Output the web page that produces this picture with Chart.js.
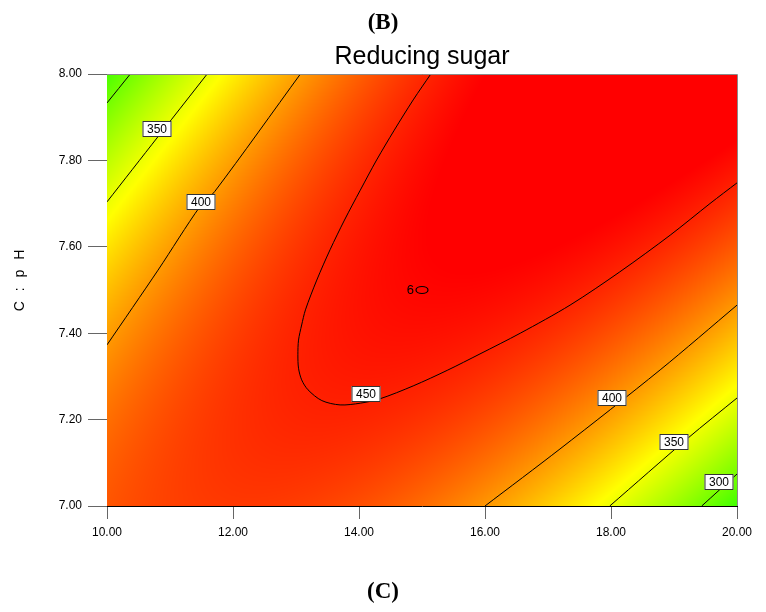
<!DOCTYPE html>
<html>
<head>
<meta charset="utf-8">
<script src="https://cdn.jsdelivr.net/npm/chart.js@4.4.1/dist/chart.umd.min.js"></script>
<style>
  html, body { margin: 0; padding: 0; background: #fff; }
</style>
</head>
<body>
<canvas id="rs" width="766" height="612"></canvas>
<script>
// axis ranges and ticks
const xMin = 10, xMax = 20;
const yMin = 7, yMax = 8;
const xStep = 2, yStep = 0.2;

// fitted quadratic model (coded units: X=(A-15)/5, Y=(pH-7.5)/0.5)
// terms: b0, X, Y, X^2, Y^2, XY
const modelCoef = [462.8, 11.7, 13.65, -65.0, -28.6, 86.0];

// contour lines [A, pH]
const contour300a = [[10.00, 7.933], [10.37, 8.00]];
const contour350a = [[10.00, 7.704], [10.81, 7.855], [11.02, 7.894], [11.59, 8.00]];
const contour400a = [[10.00, 7.373], [10.81, 7.546], [11.48, 7.694], [11.71, 7.728], [13.07, 8.00]];
const contour450 = [
  [15.14, 8.000], [14.86, 7.940], [14.56, 7.870], [14.28, 7.801], [14.02, 7.731],
  [13.77, 7.662], [13.54, 7.593], [13.33, 7.523], [13.15, 7.454], [13.09, 7.419],
  [13.04, 7.384], [13.03, 7.350], [13.04, 7.319], [13.09, 7.292], [13.19, 7.269],
  [13.41, 7.244], [13.70, 7.234], [14.02, 7.238], [14.33, 7.248], [14.86, 7.278],
  [15.40, 7.314], [15.92, 7.352], [16.56, 7.400], [17.35, 7.465], [18.14, 7.542],
  [18.94, 7.627], [19.57, 7.700], [20.00, 7.748]
];
const contour400b = [[16.00, 7.000], [17.19, 7.132], [18.78, 7.315], [20.00, 7.465]];
const contour350b = [[17.98, 7.000], [19.22, 7.157], [20.00, 7.250]];
const contour300b = [[19.44, 7.000], [20.00, 7.074]];

// contour labels
const labelText = ["350", "400", "450", "400", "350", "300"];
const labelX = [10.80, 11.49, 14.11, 18.02, 19.00, 19.71];
const labelY = [7.873, 7.704, 7.259, 7.249, 7.147, 7.055];

// design point (center, 6 replicates)
const designX = [15.0];
const designY = [7.5];
const designN = [6];

const titleTop = "(B)";
const titleMain = "Reducing sugar";
const titleBottom = "(C)";
const yTitle = "C : p H";

// colour ramp: green -> yellow -> red
const rampVals = [255, 360, 465];
const rampCols = [[0, 255, 0], [255, 255, 0], [255, 0, 0]];

function response(a, ph) {
  const X = (a - 15) / 5, Y = (ph - 7.5) / 0.5;
  const b = modelCoef;
  return b[0] + b[1]*X + b[2]*Y + b[3]*X*X + b[4]*Y*Y + b[5]*X*Y;
}

function rampColor(v) {
  if (v <= rampVals[0]) return rampCols[0];
  if (v >= rampVals[2]) return rampCols[2];
  const k = v < rampVals[1] ? 0 : 1;
  const t = (v - rampVals[k]) / (rampVals[k+1] - rampVals[k]);
  const c0 = rampCols[k], c1 = rampCols[k+1];
  return [c0[0] + (c1[0]-c0[0])*t, c0[1] + (c1[1]-c0[1])*t, c0[2] + (c1[2]-c0[2])*t];
}

const toPts = arr => arr.map(p => ({x: p[0], y: p[1]}));

function lineSet(arr) {
  return {
    type: 'line',
    data: toPts(arr),
    borderColor: '#000',
    borderWidth: 1,
    pointRadius: 0,
    tension: 0.3,
    fill: false
  };
}

// small ellipse marker for the design point
const ell = document.createElement('canvas');
ell.width = 16; ell.height = 10;
(function(){
  const c = ell.getContext('2d');
  c.strokeStyle = '#000'; c.lineWidth = 1.2;
  c.beginPath(); c.ellipse(8, 5, 6, 3.5, 0, 0, Math.PI*2); c.stroke();
})();

const surfacePlugin = {
  id: 'surface',
  beforeDatasetsDraw(chart) {
    const {ctx, chartArea: a, scales: {x, y}} = chart;
    const w = Math.round(a.right - a.left), h = Math.round(a.bottom - a.top);
    const off = document.createElement('canvas');
    off.width = w; off.height = h;
    const octx = off.getContext('2d');
    const img = octx.createImageData(w, h);
    for (let j = 0; j < h; j++) {
      const yv = y.getValueForPixel(a.top + j + 0.5);
      for (let i = 0; i < w; i++) {
        const xv = x.getValueForPixel(a.left + i + 0.5);
        const c = rampColor(response(xv, yv));
        const k = (j*w + i) * 4;
        img.data[k] = c[0]; img.data[k+1] = c[1]; img.data[k+2] = c[2]; img.data[k+3] = 255;
      }
    }
    octx.putImageData(img, 0, 0);
    ctx.drawImage(off, a.left, a.top);
  },
  afterDatasetsDraw(chart) {
    const {ctx, chartArea: a, scales: {x, y}} = chart;
    ctx.save();
    // frame top/right
    ctx.strokeStyle = '#8a8a8a';
    ctx.lineWidth = 1;
    ctx.beginPath();
    ctx.moveTo(a.left, a.top + 0.5); ctx.lineTo(a.right + 0.5, a.top + 0.5);
    ctx.lineTo(a.right + 0.5, a.bottom);
    ctx.stroke();

    // contour labels
    ctx.font = '12px "Liberation Sans", Arial, sans-serif';
    ctx.textAlign = 'center';
    ctx.textBaseline = 'middle';
    labelText.forEach((t, i) => {
      const px = Math.round(x.getPixelForValue(labelX[i]));
      const py = Math.round(y.getPixelForValue(labelY[i]));
      const bw = Math.ceil(ctx.measureText(t).width) + 8, bh = 16;
      ctx.fillStyle = '#fff';
      ctx.fillRect(px - bw/2, py - bh/2, bw, bh);
      ctx.strokeStyle = '#333';
      ctx.strokeRect(px - bw/2 + 0.5, py - bh/2 + 0.5, bw - 1, bh - 1);
      ctx.fillStyle = '#000';
      ctx.fillText(t, px, py + 1);
    });

    // design point count
    ctx.font = '13px "Liberation Sans", Arial, sans-serif';
    ctx.textAlign = 'right';
    designN.forEach((n, i) => {
      ctx.fillText(String(n), x.getPixelForValue(designX[i]) - 8, y.getPixelForValue(designY[i]));
    });
    ctx.restore();
  },
  afterDraw(chart) {
    const {ctx} = chart;
    ctx.save();
    ctx.fillStyle = '#000';
    ctx.textAlign = 'center';
    ctx.textBaseline = 'middle';
    ctx.font = 'bold 23px "Liberation Serif", "Times New Roman", serif';
    ctx.fillText(titleTop, 383, 23);
    ctx.fillText(titleBottom, 383, 592);
    ctx.font = '25px "Liberation Sans", Arial, sans-serif';
    ctx.fillText(titleMain, 422, 57);
    ctx.translate(20, 279);
    ctx.rotate(-Math.PI/2);
    ctx.font = '14px "Liberation Sans", Arial, sans-serif';
    if ('letterSpacing' in ctx) ctx.letterSpacing = '3px';
    ctx.fillText(yTitle, 0, 0);
    ctx.restore();
  }
};

new Chart(document.getElementById('rs'), {
  type: 'scatter',
  data: {
    datasets: [
      lineSet(contour300a), lineSet(contour350a), lineSet(contour400a), lineSet(contour450),
      lineSet(contour400b), lineSet(contour350b), lineSet(contour300b),
      {
        type: 'scatter',
        data: designX.map((v, i) => ({x: v, y: designY[i]})),
        pointStyle: ell,
        pointRadius: 5
      }
    ]
  },
  options: {
    responsive: false,
    animation: false,
    devicePixelRatio: 1,
    layout: { padding: { top: 74, right: 29, bottom: 0, left: 0 } },
    plugins: { legend: { display: false }, tooltip: { enabled: false } },
    scales: {
      x: {
        type: 'linear', min: xMin, max: xMax,
        afterFit: s => { s.height = 106; },
        ticks: {
          stepSize: xStep, color: '#000', padding: 6,
          font: { family: '"Liberation Sans", Arial, sans-serif', size: 12 },
          callback: v => Number(v).toFixed(2)
        },
        grid: { drawOnChartArea: false, tickLength: 13, color: '#666' },
        border: { color: '#000' }
      },
      y: {
        type: 'linear', min: yMin, max: yMax,
        afterFit: s => { s.width = 107; },
        ticks: {
          stepSize: yStep, color: '#000', padding: 6,
          font: { family: '"Liberation Sans", Arial, sans-serif', size: 12 },
          callback: v => Number(v).toFixed(2)
        },
        grid: { drawOnChartArea: false, tickLength: 19, color: '#666' },
        border: { color: '#000' }
      }
    }
  },
  plugins: [surfacePlugin]
});
</script>
</body>
</html>
